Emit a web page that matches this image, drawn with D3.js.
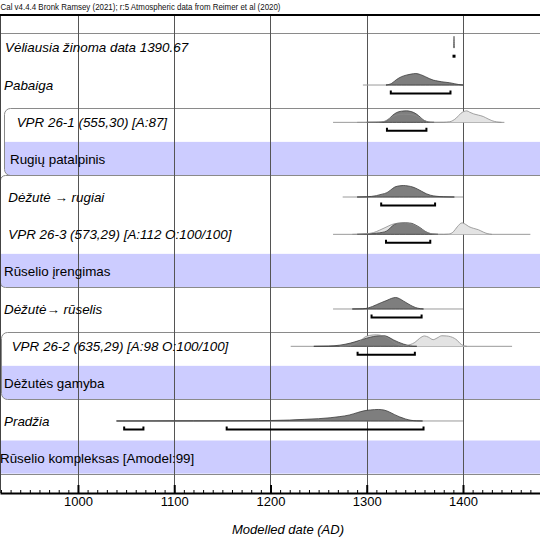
<!DOCTYPE html>
<html>
<head>
<meta charset="utf-8">
<script src="https://cdn.jsdelivr.net/npm/d3@7"></script>
<style>
  body { margin: 0; background: #fff; }
  svg { display: block; font-family: "Liberation Sans", Arial, sans-serif; }
</style>
</head>
<body>
<div id="chart"></div>
<script>
// row labels, top to bottom
const labels = [
  "Vėliausia žinoma data 1390.67",
  "Pabaiga",
  "VPR 26-1 (555,30) [A:87]",
  "Rugių patalpinis",
  "Dėžutė → rugiai",
  "VPR 26-3 (573,29) [A:112 O:100/100]",
  "Rūselio įrengimas",
  "Dėžutė→ rūselis",
  "VPR 26-2 (635,29) [A:98 O:100/100]",
  "Dėžutės gamyba",
  "Pradžia",
  "Rūselio kompleksas [Amodel:99]",
];
const groupRows = [3, 6, 9, 11];
const boxedGroups = [[2, 3], [8, 9]];
const header = "Cal v4.4.4 Bronk Ramsey (2021); r:5 Atmospheric data from Reimer et al (2020)";
const axisTitle = "Modelled date (AD)";
const majorTicks = [1000, 1100, 1200, 1300, 1400];

// [year, relative probability]
const postVeliausia = [[1390.1, 0], [1390.67, 1], [1391.2, 0]];
const postPabaiga = [[1320, 0], [1326, 0.15], [1331, 0.48], [1336, 0.72], [1341, 0.86], [1346, 0.95], [1351, 1], [1356, 0.9], [1361, 0.72], [1365, 0.56], [1369, 0.43], [1374, 0.34], [1378, 0.28], [1386, 0.2], [1391, 0.12], [1395, 0.05], [1400, 0]];
const likeVPR261 = [[1290, 0], [1310, 0.01], [1318, 0.08], [1322, 0.25], [1327, 0.5], [1332, 0.66], [1338, 0.71], [1345, 0.69], [1353, 0.51], [1358, 0.25], [1363, 0.06], [1368, 0], [1380, 0.01], [1386, 0.05], [1393, 0.37], [1398, 0.8], [1404, 1], [1407, 0.88], [1411, 0.74], [1416, 0.63], [1421, 0.51], [1426, 0.3], [1430, 0.15], [1435, 0.04], [1440, 0]];
const postVPR261 = [[1300, 0], [1312, 0.01], [1318, 0.05], [1323, 0.3], [1327, 0.62], [1331, 0.85], [1336, 0.97], [1341, 1], [1345, 0.96], [1349, 0.85], [1352, 0.7], [1356, 0.42], [1359, 0.2], [1362, 0.08], [1366, 0.01], [1370, 0]];
const postDezRugiai = [[1290, 0], [1300, 0.02], [1310, 0.12], [1316, 0.25], [1321, 0.38], [1325, 0.62], [1329, 0.86], [1334, 0.97], [1338, 1], [1343, 0.96], [1348, 0.86], [1353, 0.68], [1357, 0.5], [1362, 0.28], [1366, 0.16], [1372, 0.07], [1380, 0.02], [1391, 0]];
const likeVPR263 = [[1285, 0], [1298, 0.04], [1307, 0.15], [1313, 0.35], [1320, 0.62], [1326, 0.85], [1331, 0.95], [1338, 0.97], [1345, 0.93], [1351, 0.76], [1356, 0.5], [1361, 0.25], [1366, 0.08], [1372, 0.01], [1380, 0], [1385, 0.02], [1390, 0.22], [1394, 0.65], [1399, 1], [1403, 0.85], [1406, 0.68], [1411, 0.52], [1416, 0.4], [1421, 0.2], [1425, 0.07], [1430, 0]];
const postVPR263 = [[1290, 0], [1300, 0.03], [1310, 0.1], [1316, 0.17], [1321, 0.3], [1325, 0.6], [1329, 0.88], [1334, 0.98], [1340, 1], [1346, 0.97], [1351, 0.8], [1356, 0.55], [1360, 0.3], [1364, 0.12], [1368, 0.03], [1374, 0]];
const postDezRuselis = [[1285, 0], [1296, 0.02], [1302, 0.1], [1310, 0.37], [1315, 0.55], [1321, 0.75], [1326, 0.93], [1330, 1], [1334, 0.9], [1338, 0.7], [1343, 0.45], [1348, 0.22], [1353, 0.07], [1359, 0]];
const likeVPR262 = [[1272, 0], [1282, 0.06], [1288, 0.22], [1293, 0.45], [1298, 0.8], [1303, 0.95], [1310, 1], [1316, 0.93], [1321, 0.76], [1326, 0.48], [1330, 0.24], [1335, 0.1], [1339, 0.06], [1345, 0.15], [1350, 0.34], [1355, 0.7], [1360, 0.9], [1364, 0.8], [1369, 0.58], [1373, 0.72], [1378, 0.92], [1383, 0.9], [1387, 0.84], [1391, 0.7], [1394, 0.52], [1397, 0.25], [1400, 0.08], [1404, 0]];
const postVPR262 = [[1245, 0], [1260, 0.02], [1272, 0.1], [1283, 0.28], [1292, 0.5], [1300, 0.71], [1307, 0.85], [1314, 0.92], [1319, 0.91], [1323, 0.78], [1328, 0.55], [1333, 0.36], [1338, 0.2], [1343, 0.08], [1348, 0.01], [1352, 0]];
const postPradzia = [[1040, 0], [1080, 0.003], [1120, 0.01], [1160, 0.02], [1200, 0.04], [1220, 0.08], [1235, 0.14], [1250, 0.2], [1262, 0.28], [1272, 0.38], [1282, 0.52], [1290, 0.72], [1297, 0.88], [1304, 0.96], [1312, 1], [1318, 0.95], [1324, 0.76], [1329, 0.55], [1334, 0.36], [1340, 0.18], [1346, 0.06], [1352, 0.01], [1358, 0]];

// calculation span of each row (drawn as the thin base line)
const spans = { 1: [1296, 1400], 2: [1265, 1443], 4: [1275, 1400], 5: [1265, 1470], 7: [1265, 1400], 8: [1221, 1451], 10: [1040, 1400] };
// 95.4% ranges
const ranges = { 0: [[1390.67, 1390.67]], 1: [[1325, 1387]], 2: [[1321, 1362]], 4: [[1315, 1371]], 5: [[1320, 1366]], 7: [[1305, 1357]], 8: [[1290.5, 1350]], 10: [[1048, 1068], [1154.5, 1359]] };
const likelihoods = { 2: likeVPR261, 5: likeVPR263, 8: likeVPR262 };
const posteriors = { 0: postVeliausia, 1: postPabaiga, 2: postVPR261, 4: postDezRugiai, 5: postVPR263, 7: postDezRuselis, 8: postVPR262, 10: postPradzia };

const width = 540, height = 540;
const topY = 15, axisY = 493;
const labelX = [5, 4, 16.7, 10, 8.3, 8.3, 4, 4, 11.7, 4, 4, 0];
const blue = "#ccccff";
const crisp = (v) => Math.round(v) + 0.5;

const svg = d3.select("#chart").append("svg").attr("width", width).attr("height", height);

const x = d3.scaleLinear().domain([919, 1480]).range([0, width]);
const y = d3.scalePoint().domain(d3.range(labels.length)).range([47.7, 458.3]);
const h = d3.scaleLinear().domain([0, 1]).range([0, 11.5]);

// group bands
svg.append("g")
  .selectAll("rect")
  .data(groupRows.filter((r) => !boxedGroups.some((b) => b[1] === r)))
  .enter()
  .append("rect")
  .attr("x", 0)
  .attr("width", width)
  .attr("y", (r) => y(r) - 17.8)
  .attr("height", 33.1)
  .attr("fill", blue);

// rounded boxes round the phases
const boxes = svg.append("g");
boxedGroups.forEach(([a, b], i) => {
  const bx = i === 0 ? 4.5 : 1.5;
  const by = crisp(y(a) - 14.5), bh = crisp(y(b) + 15.3) - by;
  const id = `clip${i}`;
  boxes.append("clipPath").attr("id", id)
    .append("rect").attr("x", bx).attr("y", by).attr("width", width + 20).attr("height", bh).attr("rx", 6);
  boxes.append("rect")
    .attr("clip-path", `url(#${id})`)
    .attr("x", bx).attr("width", width + 20)
    .attr("y", y(b) - 17.8).attr("height", 33.1 + 2)
    .attr("fill", blue);
  boxes.append("rect")
    .attr("x", bx).attr("y", by).attr("width", width + 20).attr("height", bh).attr("rx", 6)
    .attr("fill", "none").attr("stroke", "#8a8a8a");
});

// phase box for "Rūselio įrengimas"
svg.append("rect")
  .attr("x", 0.5).attr("y", crisp(y(3) + 15.3)).attr("width", width + 20).attr("height", crisp(y(6) + 15.3) - crisp(y(3) + 15.3))
  .attr("rx", 5).attr("fill", "none").attr("stroke", "#8a8a8a");

// outer sequence lines
svg.append("g")
  .selectAll("line")
  .data([crisp(y(0) - 14.5), crisp(y(11) + 15.3)])
  .enter()
  .append("line")
  .attr("x1", 0).attr("x2", width)
  .attr("y1", (d) => d).attr("y2", (d) => d)
  .attr("stroke", "#8a8a8a");

// vertical grid
svg.append("g")
  .selectAll("line")
  .data(majorTicks)
  .enter()
  .append("line")
  .attr("x1", (d) => crisp(x(d))).attr("x2", (d) => crisp(x(d)))
  .attr("y1", topY).attr("y2", axisY)
  .attr("stroke", "#555");

svg.append("line").attr("x1", 0.5).attr("x2", 0.5).attr("y1", topY).attr("y2", axisY).attr("stroke", "#444");
svg.append("line").attr("x1", 0).attr("x2", width).attr("y1", topY).attr("y2", topY).attr("stroke", "#000").attr("stroke-width", 2);

// distributions
const area = d3.area()
  .x((d) => x(d[0]))
  .y0(0)
  .y1((d) => -h(d[1]))
  .curve(d3.curveMonotoneX);
const line = d3.line()
  .x((d) => x(d[0]))
  .y((d) => -h(d[1]))
  .curve(d3.curveMonotoneX);

const dist = svg.append("g");
d3.range(labels.length).forEach((r) => {
  const g = dist.append("g").attr("transform", `translate(0,${y(r)})`);
  if (spans[r]) {
    g.append("line")
      .attr("x1", x(spans[r][0])).attr("x2", x(spans[r][1]))
      .attr("stroke", "#9a9a9a");
  }
  if (likelihoods[r]) {
    g.append("path").datum(likelihoods[r]).attr("d", area).attr("fill", "#e3e3e3");
  }
  if (posteriors[r]) {
    g.append("path").datum(posteriors[r]).attr("d", area)
      .attr("fill", "#7e7e7e").attr("stroke", r === 0 ? "#666" : "#3c3c3c").attr("stroke-width", 0.8);
  }
  if (likelihoods[r]) {
    g.append("path").datum(likelihoods[r]).attr("d", line)
      .attr("fill", "none").attr("stroke", "#8c8c8c").attr("stroke-width", 0.8);
  }
  (ranges[r] || []).forEach(([a, b]) => {
    if (a === b) {
      g.append("rect").attr("x", x(a) - 1.5).attr("y", 8.5 - 1.5).attr("width", 3).attr("height", 3).attr("fill", "#000");
    } else {
      g.append("path")
        .attr("d", `M${x(a)},${5.5}V${8.5}H${x(b)}V${5.5}`)
        .attr("fill", "none").attr("stroke", "#000").attr("stroke-width", 2);
    }
  });
});

// labels
svg.append("g")
  .selectAll("text")
  .data(labels)
  .enter()
  .append("text")
  .attr("x", (d, i) => labelX[i])
  .attr("y", (d, i) => y(i))
  .attr("dy", "0.35em")
  .attr("font-size", 13.4)
  .attr("font-style", (d, i) => (groupRows.includes(i) ? "normal" : "italic"))
  .attr("fill", "#000")
  .text((d) => d);

// header line over the frame
svg.append("text")
  .attr("x", 0.5)
  .attr("y", 10)
  .attr("font-size", 9)
  .attr("fill", "#111")
  .attr("textLength", 280)
  .attr("lengthAdjust", "spacingAndGlyphs")
  .text(header);

// axis
const minor = svg.append("g")
  .attr("transform", `translate(0,${axisY})`)
  .call(d3.axisBottom(x).tickValues(d3.range(920, 1481, 10)).tickSizeInner(-3).tickSizeOuter(0).tickFormat(""));
minor.select(".domain").remove();
minor.selectAll("line").attr("stroke", "#000");

const xAxis_g = svg.append("g")
  .attr("transform", `translate(0,${axisY})`)
  .call(d3.axisBottom(x).tickValues(majorTicks).tickSizeInner(-8).tickSizeOuter(0).tickPadding(4).tickFormat(d3.format("d")));
xAxis_g.select(".domain").attr("stroke", "#000").attr("stroke-width", 2);
xAxis_g.selectAll(".tick line").attr("stroke", "#000").attr("stroke-width", 2);
xAxis_g.selectAll(".tick text")
  .attr("font-size", 13)
  .attr("font-family", "Liberation Sans, Arial, sans-serif")
  .attr("fill", "#000");

svg.append("text")
  .attr("x", 288)
  .attr("y", 529)
  .attr("dy", "0.35em")
  .attr("text-anchor", "middle")
  .attr("font-size", 13)
  .attr("font-style", "italic")
  .text(axisTitle);
</script>
</body>
</html>
